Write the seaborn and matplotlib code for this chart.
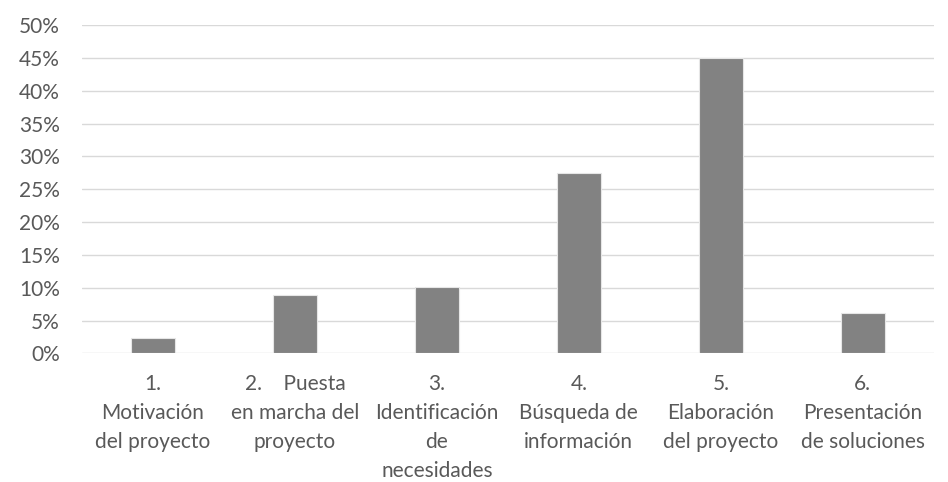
import matplotlib
matplotlib.use("Agg")
import matplotlib.pyplot as plt
from matplotlib.ticker import PercentFormatter
import seaborn as sns
import pandas as pd

# Phases of the project and the share of responses for each one (%)
categories = [
    "1.\nMotivación\ndel proyecto",
    "2.    Puesta\nen marcha del\nproyecto",
    "3.\nIdentificación\nde\nnecesidades",
    "4.\nBúsqueda de\ninformación",
    "5.\nElaboración\ndel proyecto",
    "6.\nPresentación\nde soluciones",
]
values = [2.4, 8.9, 10.1, 27.5, 45.0, 6.2]
y_ticks = [0, 5, 10, 15, 20, 25, 30, 35, 40, 45, 50]

df = pd.DataFrame({"fase": categories, "porcentaje": values})

sns.set_theme(style="white")
plt.rcParams["font.family"] = ["Lato", "DejaVu Sans"]

fig = plt.figure(figsize=(9.48, 4.82), dpi=100)
ax = fig.add_axes([0.0865, 0.2666, 0.8985, 0.6814])

sns.barplot(data=df, x="fase", y="porcentaje", color="#828282",
            saturation=1, width=0.31, edgecolor="#e6e6e6", linewidth=0.8,
            ax=ax, zorder=3)

ax.set_ylim(0, 50)
ax.set_yticks(y_ticks)
ax.yaxis.set_major_formatter(PercentFormatter(decimals=0))
ax.grid(axis="y", color="#d9d9d9", linewidth=1.0, zorder=0)
ax.set_axisbelow(True)
for side in ["top", "right", "left", "bottom"]:
    ax.spines[side].set_visible(False)

ax.set_xlabel("")
ax.set_ylabel("")
ax.tick_params(axis="both", length=0, labelcolor="#595959", labelsize=15)
ax.tick_params(axis="y", pad=16)
ax.tick_params(axis="x", pad=15)
for lab in ax.get_xticklabels():
    lab.set_linespacing(1.56)
    lab.set_ha("center")

fig.savefig("out.png", dpi=100, facecolor="white")
